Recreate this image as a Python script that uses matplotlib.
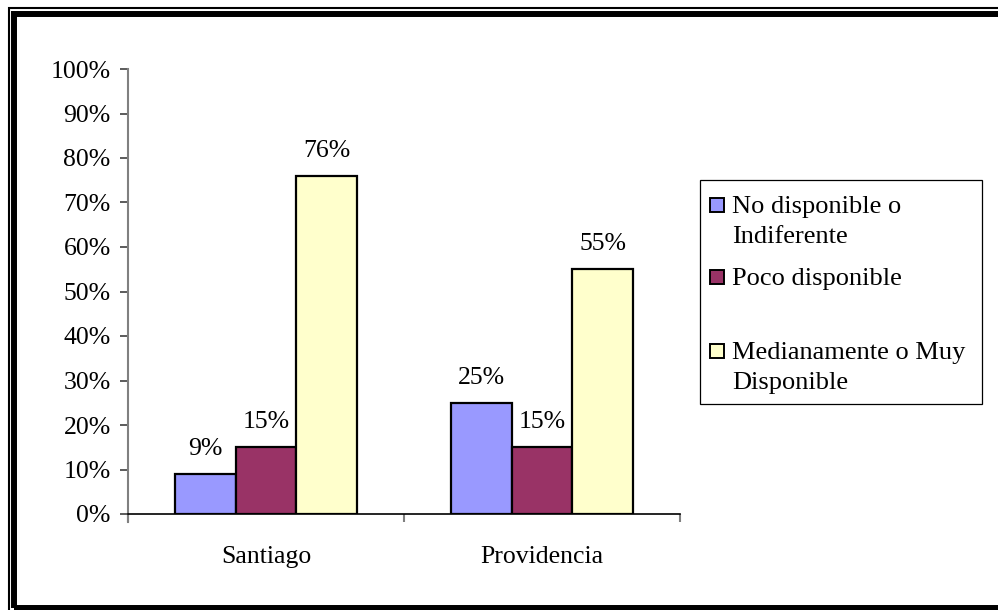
import matplotlib.pyplot as plt
import matplotlib.patches as patches
import numpy as np
from matplotlib.ticker import PercentFormatter

categories = ["Santiago", "Providencia"]
series_names = ["No disponible o\nIndiferente", "Poco disponible", "Medianamente o Muy\nDisponible"]
no_disponible = [0.09, 0.25]
poco_disponible = [0.15, 0.15]
muy_disponible = [0.76, 0.55]
labels = [["9%", "25%"], ["15%", "15%"], ["76%", "55%"]]

colors = ["#9999FF", "#993366", "#FFFFCC"]
FONT = "Liberation Serif"
FS = 18.5

W, H = 998, 610
fig = plt.figure(figsize=(W / 100, H / 100), dpi=100)


def px_rect(x0, y0, x1, y1):
    # pixel box (top-left origin) -> figure fraction rect
    return (x0 / W, 1 - y1 / H, (x1 - x0) / W, (y1 - y0) / H)


ax = fig.add_axes(px_rect(128, 69, 680, 514))

values = [no_disponible, poco_disponible, muy_disponible]
x = np.arange(len(categories))
bw = 0.221
for i, vals in enumerate(values):
    xs = x + (i - 1) * bw
    bars = ax.bar(xs, vals, width=bw, color=colors[i], edgecolor="black", linewidth=1.6)
    for b, lab in zip(bars, labels[i]):
        ax.annotate(lab, (b.get_x() + b.get_width() / 2, b.get_height()),
                    xytext=(0, 14), textcoords="offset pixels",
                    ha="center", va="bottom", fontsize=FS, family=FONT)

ax.set_xlim(-0.5, 1.5)
ax.set_ylim(0, 1)
ax.set_yticks(np.arange(0, 1.01, 0.1))
ax.yaxis.set_major_formatter(PercentFormatter(1.0, decimals=0))
ax.set_xticks([-0.5, 0.5, 1.5])
ax.set_xticklabels([])
ax.set_xticks(x, minor=True)
ax.set_xticklabels(categories, minor=True)
ax.tick_params(axis="x", which="major", direction="out", length=6, color="#808080", width=1.5)
ax.tick_params(axis="x", which="minor", length=0, pad=23)
ax.tick_params(axis="y", direction="out", length=6, width=1.2, color="#404040", pad=6.5)
for lab in ax.get_xticklabels(minor=True) + ax.get_yticklabels():
    lab.set_fontsize(FS)
    lab.set_family(FONT)

ax.spines["top"].set_visible(False)
ax.spines["right"].set_visible(False)
ax.spines["left"].set_color("#808080")
ax.spines["left"].set_linewidth(1.5)
ax.spines["left"].set_bounds(-0.018, 1)
ax.spines["bottom"].set_color("black")
ax.spines["bottom"].set_linewidth(1.2)

# legend box drawn by hand, Excel style
lx0, ly0, lx1, ly1 = 700, 180, 982, 404
fig.patches.append(patches.Rectangle(px_rect(lx0, ly0, lx1, ly1)[:2],
                                     (lx1 - lx0) / W, (ly1 - ly0) / H,
                                     transform=fig.transFigure, facecolor="white",
                                     edgecolor="black", linewidth=0.9))
entry_y = [205, 277, 351]
for col, name, ey in zip(colors, series_names, entry_y):
    fig.patches.append(patches.Rectangle((710 / W, 1 - (ey + 7) / H), 14 / W, 14 / H,
                                         transform=fig.transFigure, facecolor=col,
                                         edgecolor="black", linewidth=1.4))
    fig.text(732 / W, 1 - (ey - 9) / H, name, ha="left", va="top",
             fontsize=FS + 0.5, family=FONT, linespacing=1.45)

# outer double frame
fig.patches.append(patches.Rectangle((8.5 / W, 1 - 640 / H), 1.2, (640 - 7.5) / H,
                                     transform=fig.transFigure, fill=False,
                                     edgecolor="black", linewidth=1.5))
fig.patches.append(patches.Rectangle((13.5 / W, 1 - 607.5 / H), 1.2, (607.5 - 13.5) / H,
                                     transform=fig.transFigure, fill=False,
                                     edgecolor="black", linewidth=4.3))

fig.savefig("out.png", dpi=100)
